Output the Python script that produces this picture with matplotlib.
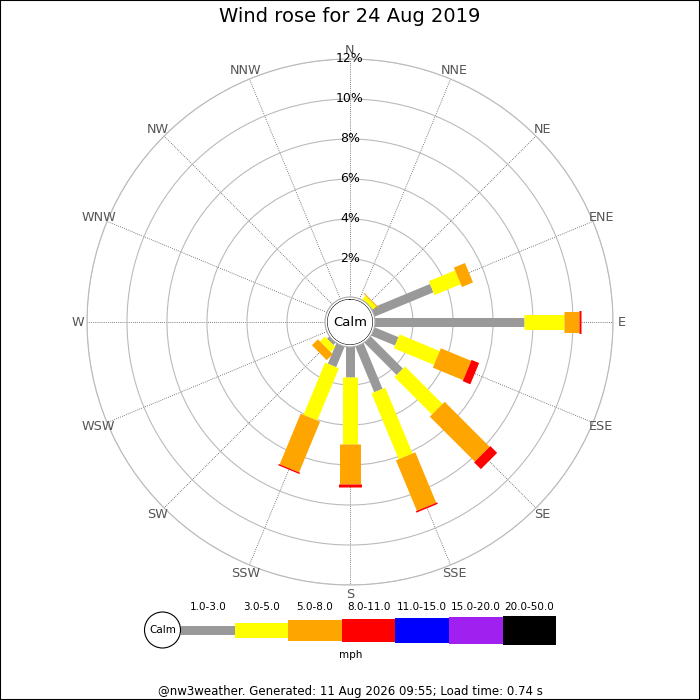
import numpy as np
import matplotlib
matplotlib.use("Agg")
import matplotlib.pyplot as plt
from matplotlib.patches import Circle, Rectangle

# directions and percentages per speed bin
directions = ["N", "NNE", "NE", "ENE", "E", "ESE", "SE", "SSE",
              "S", "SSW", "SW", "WSW", "W", "WNW", "NW", "NNW"]
bins = ["1.0-3.0", "3.0-5.0", "5.0-8.0", "8.0-11.0", "11.0-15.0", "15.0-20.0", "20.0-50.0"]
colours = ["#999999", "#ffff00", "#ffa500", "#ff0000", "#0000ff", "#a020f0", "#000000"]
widths_px = [9, 15, 21, 23, 25, 27, 29]

spd_1_3 = [0, 0, 0.10, 3.27, 7.55, 1.38, 2.37, 2.56, 1.62, 1.20, 0.25, 0, 0, 0, 0, 0]
spd_3_5 = [0, 0, 0.23, 1.42, 2.00, 2.17, 2.65, 3.56, 3.33, 2.83, 0.35, 0, 0, 0, 0, 0]
spd_5_8 = [0, 0, 0.05, 0.60, 0.75, 1.64, 3.18, 2.73, 2.00, 2.74, 0.42, 0, 0, 0, 0, 0]
spd_8_11 = [0, 0, 0, 0, 0.10, 0.41, 0.48, 0.08, 0.17, 0.07, 0, 0, 0, 0, 0, 0]
series = [spd_1_3, spd_3_5, spd_5_8, spd_8_11]

ring_ticks = [2, 4, 6, 8, 10, 12]
title = "Wind rose for 24 Aug 2019"
footer = "@nw3weather. Generated: 11 Aug 2026 09:55; Load time: 0.74 s"

fig = plt.figure(figsize=(7, 7), dpi=100)

# rose
ax = fig.add_axes([87 / 700, 115 / 700, 526 / 700, 526 / 700], projection="polar")
ax.set_theta_zero_location("N")
ax.set_theta_direction(-1)
ax.set_rlim(0, 12)
ax.set_rorigin(-1.15)
ax.set_facecolor("white")

theta = np.deg2rad(np.arange(16) * 22.5)
ax.set_xticks(theta)
ax.set_xticklabels([])
ax.set_yticks(ring_ticks)
ax.set_yticklabels([])
ax.xaxis.grid(True, color="#555555", linestyle=(0, (1, 1.5)), linewidth=0.6)
ax.yaxis.grid(True, color="#bbbbbb", linestyle="-", linewidth=0.8)
ax.spines["polar"].set_color("#bbbbbb")
ax.spines["polar"].set_linewidth(0.8)
ax.spines["inner"].set_visible(False)

for i in range(16):
    base = 0
    for k, vals in enumerate(series):
        v = vals[i]
        if v > 0:
            ax.plot([theta[i], theta[i]], [base, base + v], color=colours[k],
                    linewidth=widths_px[k] * 0.72, solid_capstyle="butt", zorder=3 + k)
        base += v

for r in ring_ticks:
    ax.text(0, r, f"{r}%", ha="center", va="center", fontsize=9, color="black", zorder=10)

for t, d in zip(theta, directions):
    ax.text(t, 12.45, d, ha="center", va="center", fontsize=9.2, color="#555555", clip_on=False)

ax.add_patch(Circle((0.5, 0.5), 25 / 526, transform=ax.transAxes, facecolor="white",
                    edgecolor="#aaaaaa", linewidth=0.8, zorder=20))
ax.text(0.5, 0.5, "Calm", transform=ax.transAxes, ha="center", va="center", fontsize=9.5, zorder=21)

fig.text(0.5, 1 - 17 / 700, title, ha="center", va="center", fontsize=14)

# legend
lg = fig.add_axes([130 / 700, 30 / 700, 440 / 700, 80 / 700])
lg.set_xlim(130, 570)
lg.set_ylim(670, 590)
lg.axis("off")
seg_w = 53.6
x0 = 181
for k, lab in enumerate(bins):
    h = widths_px[k]
    lg.add_patch(Rectangle((x0 + k * seg_w, 630 - h / 2), seg_w, h, facecolor=colours[k], edgecolor="none"))
    lg.text(x0 + (k + 0.5) * seg_w, 607, lab, ha="center", va="center", fontsize=7.5)
lg.add_patch(Circle((162.5, 630), 18, facecolor="white", edgecolor="black", linewidth=0.8, zorder=5))
lg.text(162.5, 630, "Calm", ha="center", va="center", fontsize=7.5, zorder=6)
lg.text(351, 655, "mph", ha="center", va="center", fontsize=7.5)

fig.text(0.5, 1 - 691 / 700, footer, ha="center", va="center", fontsize=8.5)

fig.patches.append(Rectangle((0, 0), 1, 1, transform=fig.transFigure, fill=False,
                             edgecolor="black", linewidth=1.5))

fig.savefig("out.png", dpi=100)
